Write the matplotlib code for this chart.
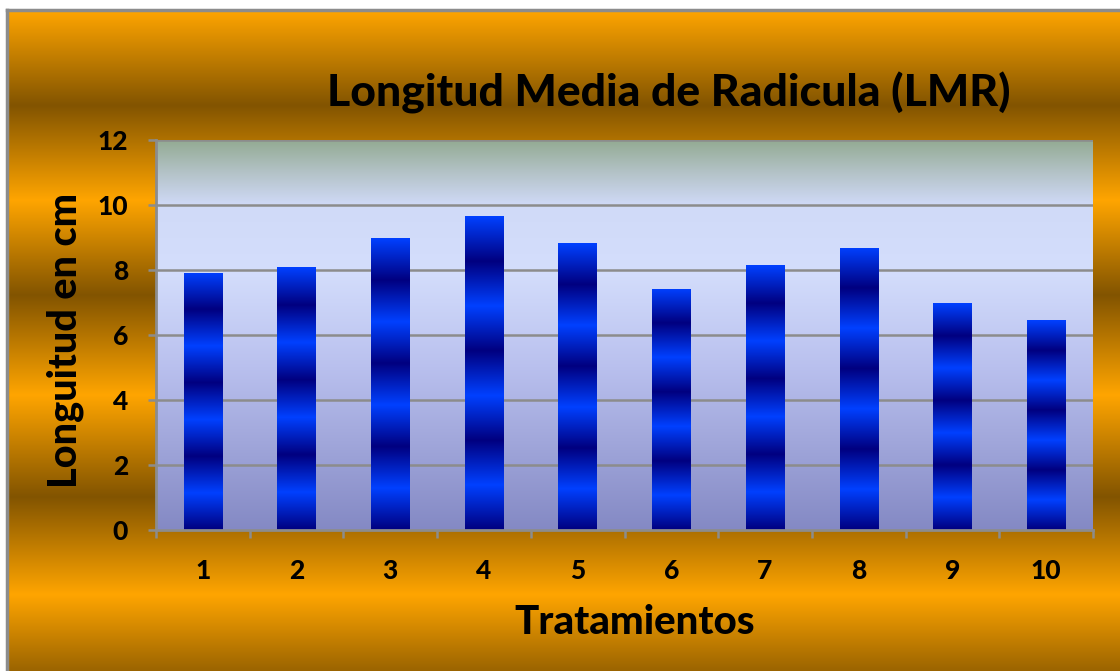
import matplotlib
matplotlib.use("Agg")
import matplotlib.pyplot as plt
import numpy as np
from matplotlib.colors import LinearSegmentedColormap

# data
tratamientos = ["1", "2", "3", "4", "5", "6", "7", "8", "9", "10"]
longitud_media = [7.92, 8.08, 8.98, 9.66, 8.83, 7.42, 8.15, 8.68, 6.98, 6.46]
y_ticks = [0, 2, 4, 6, 8, 10, 12]

title = "Longitud Media de Radicula (LMR)"
x_label = "Tratamientos"
y_label = "Longuitud en cm"

FONT = "Lato"
WEIGHT = 900
W, H = 1120, 671

fig = plt.figure(figsize=(W / 100, H / 100), dpi=100, facecolor="white")

# orange / brown banded background of the chart frame
bg = fig.add_axes([7 / W, 0, 1 - 7 / W, (H - 10) / H])
bg.set_axis_off()
orange = np.array([255, 165, 0]) / 255
brown = np.array([130, 84, 0]) / 255
stops_px = [10, 105, 200, 295, 395, 497, 595, 690]
rows = np.arange(10, H + 1)
mix = np.interp(rows, stops_px, [0, 1, 0, 1, 0, 1, 0, 1])
band = orange[None, :] * (1 - mix[:, None]) + brown[None, :] * mix[:, None]
bg.imshow(band[:, None, :], aspect="auto", extent=[0, 1, 0, 1], interpolation="bilinear")
bg.set_xlim(0, 1)
bg.set_ylim(0, 1)
fig.add_artist(plt.Line2D([7 / W, 1], [(H - 10) / H] * 2, color="#8c8c8c", lw=2.5))
fig.add_artist(plt.Line2D([7 / W] * 2, [0, (H - 10) / H], color="#8c8c8c", lw=2.5))

ax = fig.add_axes([156 / W, (H - 530) / H, (1093 - 156) / W, (530 - 140) / H])
n = len(tratamientos)
xpos = np.arange(1, n + 1)
ax.set_xlim(0.5, n + 0.5)
ax.set_ylim(0, 12)

# plot area gradient
pa_vals = [0, 5, 8, 10, 11, 12]
pa_cols = np.array([[132, 137, 196], [185, 192, 238], [212, 222, 252],
                    [208, 218, 248], [180, 195, 200], [147, 171, 147]]) / 255
yy = np.linspace(12, 0, 400)
pa = np.stack([np.interp(yy, pa_vals, pa_cols[:, i]) for i in range(3)], axis=1)
ax.imshow(pa[:, None, :], aspect="auto", extent=[0.5, n + 0.5, 0, 12], zorder=0,
          interpolation="bilinear")

for v in y_ticks[1:]:
    ax.axhline(v, color="#8c8c8c", lw=1.8, zorder=1)

# striped blue bars
bars = ax.bar(xpos, longitud_media, width=0.41, color="none", zorder=2)
bar_cmap = LinearSegmentedColormap.from_list("bar", ["#000080", "#0040ff"])
t = np.linspace(0, 1, 300)
stripe = 1 - np.interp((t * 3.5) % 1, [0, 0.5, 1], [0, 1, 0])  # bright at top
for b in bars:
    x0, w, h = b.get_x(), b.get_width(), b.get_height()
    im = ax.imshow(stripe[:, None], cmap=bar_cmap, vmin=0, vmax=1, aspect="auto",
                   extent=[x0, x0 + w, 0, h], zorder=2, interpolation="bilinear")
    im.set_clip_path(b)

for s in ["top", "right"]:
    ax.spines[s].set_visible(False)
for s in ["left", "bottom"]:
    ax.spines[s].set_color("#8c8c8c")
    ax.spines[s].set_linewidth(2)
ax.spines["left"].set_zorder(3)

ax.set_yticks(y_ticks)
ax.set_yticklabels([str(v) for v in y_ticks], fontfamily=FONT, fontweight=WEIGHT, fontsize=19)
ax.tick_params(axis="y", length=6, width=1.8, color="#8c8c8c", pad=14)
ax.set_xticks(xpos)
ax.set_xticklabels(tratamientos, fontfamily=FONT, fontweight=WEIGHT, fontsize=19)
ax.set_xticks(np.arange(0.5, n + 1), minor=True)
ax.tick_params(axis="x", which="major", length=0, pad=21)
ax.tick_params(axis="x", which="minor", length=6, width=1.8, color="#8c8c8c")

fig.text(669 / W, 1 - 93 / H, title, ha="center", va="center", fontfamily=FONT,
         fontweight=WEIGHT, fontsize=32)
fig.text(635 / W, 1 - 622 / H, x_label, ha="center", va="center", fontfamily=FONT,
         fontweight=WEIGHT, fontsize=29)
fig.text(65 / W, 1 - 341 / H, y_label, ha="center", va="center", rotation=90,
         fontfamily=FONT, fontweight=WEIGHT, fontsize=28.5)

fig.savefig("out.png", dpi=100, facecolor="white")
